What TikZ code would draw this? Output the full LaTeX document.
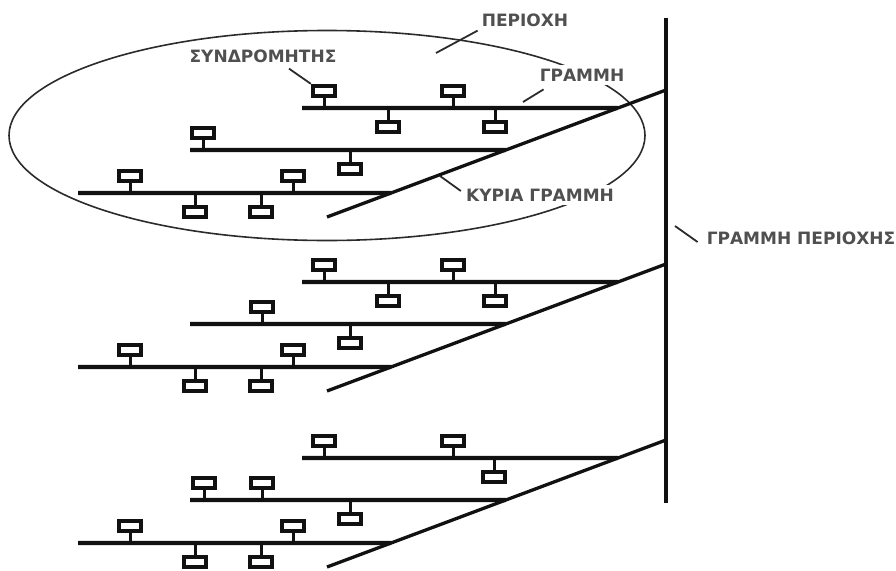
\documentclass[tikz,border=0pt]{standalone}
\usepackage{fontspec}
\usepackage{xcolor}
\usetikzlibrary{
    positioning,
    calc
}
\newfontfamily\labelfont{DejaVu Sans}
\definecolor{dark}{HTML}{111111}
\definecolor{outline}{HTML}{2B2B2B}
\definecolor{labelgray}{HTML}{505050}
\tikzset{
    % Bus line of one line segment
    bus/.style={
        line width=4.2pt,
        draw=dark
    },
    % Main line joining the lines of one area
    mainline/.style={
        line width=3.3pt,
        draw=dark
    },
    % Area line
    arealine/.style={
        line width=4.4pt,
        draw=dark
    },
    % Subscriber (terminal) style
    terminal/.style={
        rectangle,
        draw=dark,
        fill=white,
        line width=4.4pt,
        minimum width=22pt,
        minimum height=10pt,
        inner sep=0pt
    },
    % Drop from terminal to bus
    drop/.style={
        line width=3pt,
        draw=dark
    },
    % Area outline
    region/.style={
        line width=1.6pt,
        draw=outline
    },
    % Label style
    label text/.style={
        font={\labelfont\bfseries\fontsize{17}{20}\selectfont},
        text=labelgray,
        fill=white,
        inner sep=4pt
    },
    % Leader line of a label
    leader/.style={
        line width=1.8pt,
        draw=outline
    }
}

\begin{document}
\begin{tikzpicture}[x=1pt, y=-1pt]
    \useasboundingbox (0,0) rectangle (896,570);

    % Area outline
    \coordinate (regionc) at (327,135.5);
    \draw[region] (regionc) ellipse [x radius=318, y radius=105];

    % Area line
    \coordinate (areatop) at (666,18);
    \coordinate (areabot) at (666,503);
    \draw[arealine] (areatop) -- (areabot);

    % Three areas
    \foreach \g/\oy/\adn/\bup in {1/0/{388,495}/{203}, 2/174/{388,495}/{262}, 3/350/{494}/{204,262}} {
        % Main line
        \coordinate (mtop\g) at (666,90+\oy);
        \coordinate (mend\g) at (327,217+\oy);
        \draw[mainline] (mtop\g) -- (mend\g);

        % Lines
        \coordinate (la\g) at (302,108+\oy);
        \coordinate (lb\g) at (190,150+\oy);
        \coordinate (lc\g) at (78,193+\oy);
        \draw[bus] (la\g) -- ($(mtop\g)!18/127!(mend\g)$);
        \draw[bus] (lb\g) -- ($(mtop\g)!60/127!(mend\g)$);
        \draw[bus] (lc\g) -- ($(mtop\g)!103/127!(mend\g)$);

        % Subscribers on line a
        \foreach \x in {324,453} {
            \node[terminal] (ua\g-\x) at (\x,91+\oy) {};
            \draw[drop] (ua\g-\x.south) -- (ua\g-\x.south |- la\g);
        }
        \foreach \x in \adn {
            \node[terminal] (da\g-\x) at (\x,127+\oy) {};
            \draw[drop] (da\g-\x.north) -- (da\g-\x.north |- la\g);
        }

        % Subscribers on line b
        \foreach \x in \bup {
            \node[terminal] (ub\g-\x) at (\x,133+\oy) {};
            \draw[drop] (ub\g-\x.south) -- (ub\g-\x.south |- lb\g);
        }
        \node[terminal] (db\g) at (350,169+\oy) {};
        \draw[drop] (db\g.north) -- (db\g.north |- lb\g);

        % Subscribers on line c
        \foreach \x in {130,293} {
            \node[terminal] (uc\g-\x) at (\x,176+\oy) {};
            \draw[drop] (uc\g-\x.south) -- (uc\g-\x.south |- lc\g);
        }
        \foreach \x in {195,261} {
            \node[terminal] (dc\g-\x) at (\x,212+\oy) {};
            \draw[drop] (dc\g-\x.north) -- (dc\g-\x.north |- lc\g);
        }
    }

    % Labels
    \node[label text] (perioxi) at (525,20) {ΠΕΡΙΟΧΗ};
    \node[label text] (grammi) at (582,75) {ΓΡΑΜΜΗ};
    \node[label text] (syndromitis) at (263,56) {ΣΥΝΔΡΟΜΗΤΗΣ};
    \node[label text] (kyria) at (540,195) {ΚΥΡΙΑ ΓΡΑΜΜΗ};
    \node[label text] (areaname) at (801,238) {ΓΡΑΜΜΗ ΠΕΡΙΟΧΗΣ};

    % Leaders
    \coordinate (perioxitip) at (436,53);
    \coordinate (grammitip) at (523,102);
    \coordinate (kyriatip) at (440,176);
    \coordinate (areatip) at (675,226);
    \draw[leader] (perioxi.south west) -- (perioxitip);
    \draw[leader] (grammi.south west) ++(8,4) -- (grammitip);
    \draw[leader] (syndromitis.south) ++(26,2) -- (ua1-324.north west);
    \draw[leader] (kyria.west) ++(-1,-4) -- (kyriatip);
    \draw[leader] (areaname.west) ++(-5,4) -- (areatip);

\end{tikzpicture}
\end{document}
